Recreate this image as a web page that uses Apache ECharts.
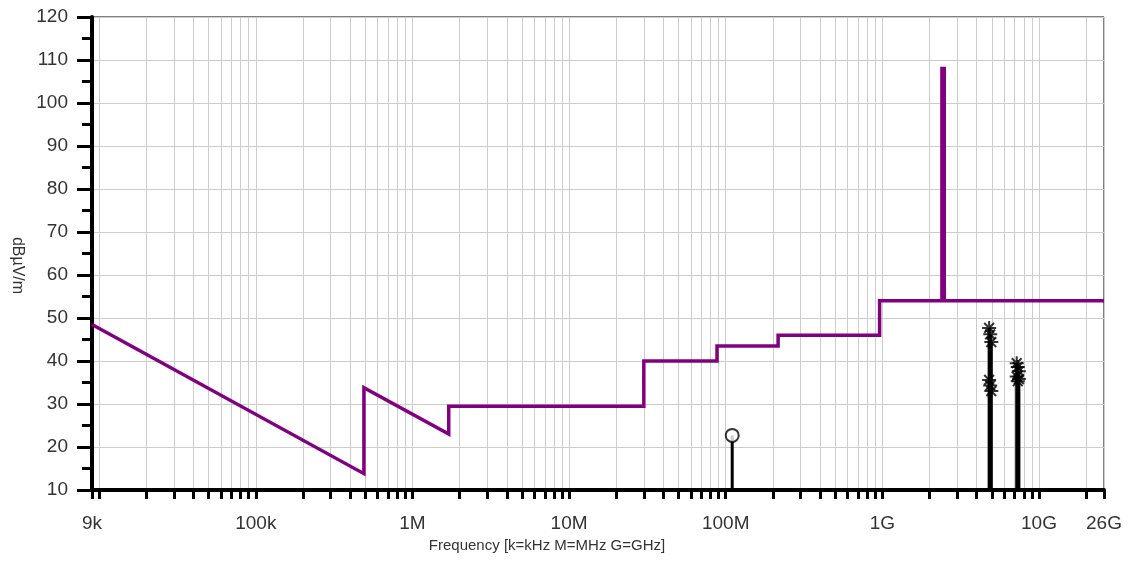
<!DOCTYPE html>
<html>
<head>
<meta charset="utf-8">
<title>Radiated emissions</title>
<script src="https://cdn.jsdelivr.net/npm/echarts@6/dist/echarts.min.js"></script>
<style>
  html, body { margin: 0; padding: 0; background: #fff; }
  #chart { width: 1128px; height: 567px; }
</style>
</head>
<body>
<div id="chart"></div>
<script>
// Limit line (frequency in Hz, level in dBµV/m)
const limitFreq  = [9e3, 490e3, 490e3, 1.705e6, 1.705e6, 30e6, 30e6, 88e6, 88e6, 216e6, 216e6, 960e6, 960e6, 2400e6, 2400e6, 2483.5e6, 2483.5e6, 26e9];
const limitLevel = [48.5, 13.8, 33.8, 23.0, 29.5, 29.5, 40, 40, 43.5, 43.5, 46, 46, 54, 54, 108, 108, 54, 54];

// Quasi-peak measurement
const qpFreq  = [110e6];
const qpLevel = [22.7];

// Harmonic measurements: peak and average readings
const harmFreq    = [4804e6, 4880e6, 4960e6, 7206e6, 7320e6, 7440e6];
const peakLevel   = [47.7, 46.2, 44.4, 39.5, 38.6, 37.6];
const avgLevel    = [35.6, 34.3, 33.0, 36.4, 35.3, 35.8];

// Axis labels
const xLabelFreq = [9e3, 1e5, 1e6, 1e7, 1e8, 1e9, 1e10, 26e9];
const xLabelText = ['9k', '100k', '1M', '10M', '100M', '1G', '10G', '26G'];
const xMin = 9e3, xMax = 26e9;
const yMin = 10, yMax = 120, yStep = 10;

// Log grid positions: 1..9 x each decade inside the axis range
const xGridFreq = [];
for (let e = 3; e <= 10; e++) {
  for (let m = 1; m <= 9; m++) {
    const f = m * Math.pow(10, e);
    if (f >= xMin && f <= xMax) xGridFreq.push(f);
  }
}
xGridFreq.push(xMax);

const pairs = (xs, ys) => xs.map((x, i) => [x, ys[i]]);

function labelFor(v) {
  for (let i = 0; i < xLabelFreq.length; i++) {
    if (Math.abs(v / xLabelFreq[i] - 1) < 1e-6) return xLabelText[i];
  }
  return '';
}

// Asterisk-like marker built from four crossed bars
const starPath = 'path://M-1,-7L1,-7L1,7L-1,7Z M-7,-1L7,-1L7,1L-7,1Z ' +
  'M-5.6,-4.2L-4.2,-5.6L5.6,4.2L4.2,5.6Z M4.2,-5.6L5.6,-4.2L-4.2,5.6L-5.6,4.2Z';

const stemData = pairs(qpFreq, qpLevel)
  .concat(pairs(harmFreq, peakLevel));

const FONT = '"Liberation Sans", Arial, sans-serif';

const chart = echarts.init(document.getElementById('chart'), null, { renderer: 'canvas' });
chart.setOption({
  animation: false,
  backgroundColor: '#fff',
  grid: {
    left: 92, right: 24, top: 17, bottom: 77,
    show: true, borderColor: '#000', borderWidth: 1, backgroundColor: '#fff'
  },
  xAxis: {
    type: 'log',
    logBase: 10,
    min: xMin,
    max: xMax,
    name: 'Frequency [k=kHz M=MHz G=GHz]',
    nameLocation: 'middle',
    nameGap: 40,
    nameTextStyle: { fontFamily: FONT, fontSize: 15, color: '#333', padding: [0, 102, 0, 0] },
    axisLine: { show: true, onZero: false, lineStyle: { color: '#000', width: 4 } },
    axisTick: { show: true, customValues: xGridFreq, length: 9, lineStyle: { color: '#000', width: 3 } },
    axisLabel: {
      customValues: xLabelFreq,
      formatter: labelFor,
      margin: 24,
      fontFamily: FONT, fontSize: 19, color: '#333'
    },
    splitLine: { show: true, lineStyle: { color: '#cdcdcd', width: 1 } }
  },
  yAxis: {
    type: 'value',
    min: yMin,
    max: yMax,
    interval: yStep,
    name: 'dBµV/m',
    nameLocation: 'middle',
    nameRotate: -90,
    nameGap: 66,
    nameTextStyle: { fontFamily: FONT, fontSize: 16, color: '#333', padding: [0, 0, 0, 24] },
    axisLine: { show: true, lineStyle: { color: '#000', width: 4 } },
    axisTick: { show: true, length: 15, lineStyle: { color: '#000', width: 3 } },
    minorTick: { show: true, splitNumber: 2, length: 10, lineStyle: { color: '#000', width: 3 } },
    axisLabel: { margin: 24, fontFamily: FONT, fontSize: 19, color: '#333' },
    splitLine: { show: true, lineStyle: { color: '#cdcdcd', width: 1 } }
  },
  series: [
    {
      name: 'Limit',
      type: 'line',
      data: pairs(limitFreq, limitLevel),
      showSymbol: false,
      symbol: 'none',
      lineStyle: { color: '#800080', width: 3.5, join: 'miter' },
      z: 3
    },
    {
      name: 'Stems',
      type: 'custom',
      data: stemData,
      renderItem: function (params, api) {
        const f = api.value(0);
        const top = api.coord([f, api.value(1)]);
        const base = api.coord([f, yMin]);
        return {
          type: 'line',
          shape: { x1: base[0], y1: base[1], x2: top[0], y2: top[1] },
          style: { stroke: '#000', lineWidth: 3 }
        };
      },
      z: 4
    },
    {
      name: 'Peak',
      type: 'scatter',
      data: pairs(harmFreq, peakLevel),
      symbol: starPath,
      symbolSize: 14,
      itemStyle: { color: '#000' },
      z: 5
    },
    {
      name: 'Average',
      type: 'scatter',
      data: pairs(harmFreq, avgLevel),
      symbol: starPath,
      symbolSize: 14,
      itemStyle: { color: '#000' },
      z: 5
    },
    {
      name: 'Quasi-peak',
      type: 'scatter',
      data: pairs(qpFreq, qpLevel),
      symbol: 'circle',
      symbolSize: 13,
      itemStyle: { color: '#fff', borderColor: '#000', borderWidth: 2 },
      z: 6
    }
  ]
});
</script>
</body>
</html>
